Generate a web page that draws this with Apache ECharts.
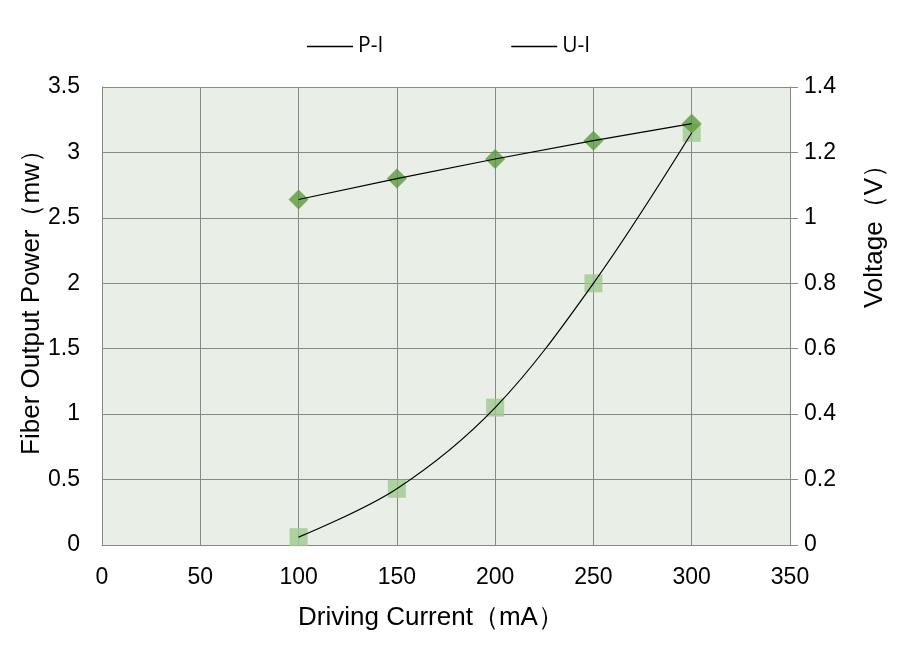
<!DOCTYPE html>
<html>
<head>
<meta charset="utf-8">
<script src="https://cdn.jsdelivr.net/npm/echarts@6/dist/echarts.min.js"></script>
<style>
  html, body { margin: 0; padding: 0; background: #fff; }
  #main { width: 905px; height: 650px; }
</style>
</head>
<body>
<div id="main"></div>
<script>
// 驱动电流 (mA)
var current = [100, 150, 200, 250, 300];
// 光纤输出功率 (mw), 左轴
var powerVals = [0.06, 0.43, 1.05, 2.0, 3.15];
// 电压 (V), 右轴
var voltVals = [1.056, 1.12, 1.18, 1.236, 1.288];

var xTicks = [0, 350, 50];
var leftTicks = [0, 3.5, 0.5];
var rightTicks = [0, 1.4, 0.2];

function pairs(xs, ys) {
  var out = [];
  for (var i = 0; i < xs.length; i++) out.push([xs[i], ys[i]]);
  return out;
}

var tickFont = 'Liberation Sans Narrow, Arial Narrow, sans-serif';
var titleFont = 'Liberation Sans, Arial, sans-serif';

var myChart = echarts.init(document.getElementById('main'));
myChart.setOption({
  animation: false,
  backgroundColor: '#fff',
  grid: {
    left: 102,
    right: 115,
    top: 87,
    bottom: 105,
    show: true,
    backgroundColor: '#e9eee6',
    borderWidth: 0
  },
  legend: {
    top: 31,
    left: 302,
    itemWidth: 46,
    itemHeight: 1.3,
    itemGap: 128,
    textStyle: { fontSize: 21, color: '#000', fontFamily: 'Open Sans, sans-serif' },
    data: [
      { name: 'P-I', icon: 'rect', itemStyle: { color: '#000' } },
      { name: 'U-I', icon: 'rect', itemStyle: { color: '#000' } }
    ]
  },
  xAxis: {
    type: 'value',
    min: xTicks[0],
    max: xTicks[1],
    interval: xTicks[2],
    name: 'Driving Current（mA）',
    nameLocation: 'middle',
    nameGap: 60,
    nameTextStyle: { fontSize: 26, color: '#000', fontFamily: titleFont, padding: [0, 30, 0, 0] },
    axisLine: { show: true, lineStyle: { color: '#888' } },
    axisTick: { show: false },
    axisLabel: { fontSize: 23, color: '#000', margin: 21, fontFamily: tickFont },
    splitLine: { show: true, lineStyle: { color: '#888', width: 1 } }
  },
  yAxis: [
    {
      type: 'value',
      min: leftTicks[0],
      max: leftTicks[1],
      interval: leftTicks[2],
      name: 'Fiber Output Power（mw）',
      nameLocation: 'middle',
      nameGap: 57,
      nameMoveOverlap: false,
      nameTextStyle: { fontSize: 26, color: '#000', fontFamily: titleFont, padding: [0, 0, 0, 40] },
      axisLine: { show: true, lineStyle: { color: '#888' } },
      axisTick: { show: false },
      axisLabel: { fontSize: 23, color: '#000', margin: 22, fontFamily: tickFont },
      splitLine: { show: true, lineStyle: { color: '#888', width: 1 } }
    },
    {
      type: 'value',
      position: 'right',
      min: rightTicks[0],
      max: rightTicks[1],
      interval: rightTicks[2],
      name: 'Voltage（V）',
      nameLocation: 'middle',
      nameGap: 72,
      nameRotate: 90,
      nameTextStyle: { fontSize: 26, color: '#000', fontFamily: titleFont, padding: [0, 0, 0, 172] },
      axisLine: { show: true, lineStyle: { color: '#888' } },
      axisTick: { show: true, length: 8, lineStyle: { color: '#888' } },
      axisLabel: { fontSize: 23, color: '#000', margin: 14, fontFamily: tickFont },
      splitLine: { show: false }
    }
  ],
  series: [
    {
      name: 'P-I markers',
      type: 'scatter',
      data: pairs(current, powerVals),
      symbol: 'rect',
      symbolSize: 18,
      itemStyle: { color: '#9fc98e' },
      z: 2
    },
    {
      name: 'P-I',
      type: 'line',
      smooth: 0.35,
      data: pairs(current, powerVals),
      showSymbol: false,
      symbol: 'none',
      lineStyle: { color: '#000', width: 1.2 },
      itemStyle: { color: '#000' },
      z: 4
    },
    {
      name: 'U-I markers',
      type: 'scatter',
      yAxisIndex: 1,
      data: pairs(current, voltVals),
      symbol: 'diamond',
      symbolSize: [20, 20],
      itemStyle: { color: '#5b9a3d' },
      z: 3
    },
    {
      name: 'U-I',
      type: 'line',
      yAxisIndex: 1,
      data: pairs(current, voltVals),
      showSymbol: false,
      symbol: 'none',
      lineStyle: { color: '#000', width: 1.2 },
      itemStyle: { color: '#000' },
      z: 4
    }
  ]
});
</script>
</body>
</html>
